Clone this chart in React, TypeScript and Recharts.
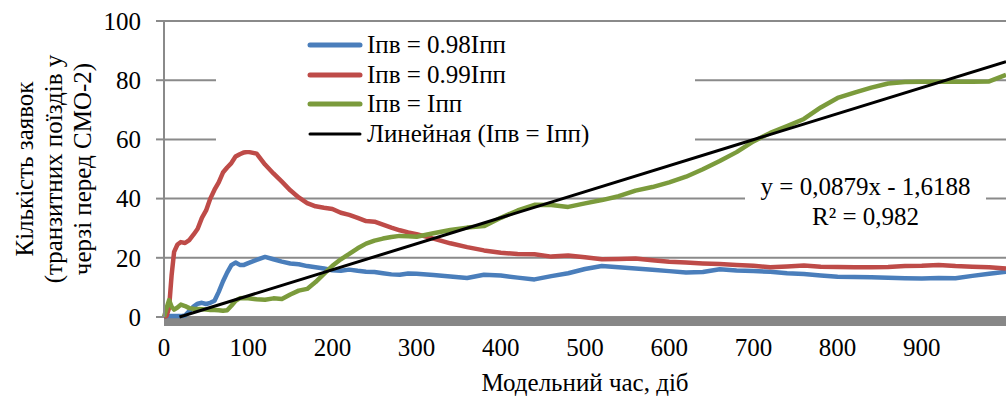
import React from 'react';
import {
  LineChart,
  Line,
  XAxis,
  YAxis,
  CartesianGrid,
  Legend,
  ReferenceLine,
  ReferenceArea,
  Label,
} from 'recharts';

// model time, days
const days = [
  0, 3, 6, 9, 12, 16, 20, 25, 30, 35, 40, 45, 50, 55, 60, 65, 70, 75, 80, 85, 90, 95, 100,
  110, 120, 130, 140, 150, 160, 170, 180, 190, 200, 210, 220, 230, 240, 250, 260, 270, 280, 290,
  300, 320, 340, 360, 380, 400, 420, 440, 460, 480, 500, 520, 540, 560, 580, 600, 620, 640, 660,
  680, 700, 720, 740, 760, 780, 800, 820, 840, 860, 880, 900, 920, 940, 960, 980, 1000,
];

// Iпв = 0.98Iпп
const queue098 = [
  0, 0.3, 0.3, 0.3, 0.3, 0.3, 0.3, 0.5, 2, 3.5, 4.5, 4.8, 4.4, 4.8, 5.5, 8.5, 12, 15, 17.5, 18.4, 17.6, 17.6, 18.2,
  19.3, 20.3, 19.5, 18.7, 18.1, 17.8, 17.2, 16.8, 16.4, 15.8, 15.6, 16.0, 15.6, 15.3, 15.2, 14.8, 14.4, 14.3, 14.7,
  14.6, 14.2, 13.7, 13.2, 14.3, 14.0, 13.3, 12.7, 13.8, 14.8, 16.2, 17.2, 16.8, 16.4, 16.0, 15.5, 15.0, 15.2, 16.1,
  15.7, 15.5, 15.3, 14.8, 14.5, 14.0, 13.6, 13.5, 13.4, 13.3, 13.1, 13.0, 13.2, 13.1, 13.9, 14.6, 15.3,
];

// Iпв = 0.99Iпп
const queue099 = [
  0, 0.3, 3, 14, 22, 24.5, 25.3, 25.0, 26, 27.8, 29.8, 33.5, 36, 40, 43, 45.5, 48.8, 50.5, 52, 54.2, 55, 55.6, 55.8,
  55.2, 51.5, 48.5, 45.7, 42.8, 40.4, 38.5, 37.4, 36.9, 36.5, 35.2, 34.5, 33.5, 32.4, 32.2, 31.2, 30.2, 29.3, 28.6,
  28.0, 26.5, 24.9, 23.6, 22.5, 21.7, 21.3, 21.2, 20.4, 20.8, 20.2, 19.5, 19.6, 19.8, 19.2, 18.7, 18.4, 18.1, 17.9,
  17.6, 17.3, 16.8, 17.1, 17.4, 17.0, 16.9, 16.8, 16.8, 16.9, 17.2, 17.3, 17.6, 17.2, 17.0, 16.8, 16.4,
];

// Iпв = Iпп
const queue100 = [
  0, 3, 5.7, 3.5, 2.5, 3.2, 4.2, 3.7, 3.0, 2.8, 2.7, 2.6, 2.5, 2.4, 2.4, 2.3, 2.1, 2.3, 3.8, 5.5, 6.3, 6.4, 6.3,
  6.0, 5.8, 6.3, 6.1, 7.6, 8.9, 9.5, 11.8, 14.6, 17.3, 19.5, 21.3, 23.2, 24.8, 25.8, 26.5, 27.0, 27.4, 27.3,
  27.1, 28.3, 29.4, 30.2, 30.7, 33.5, 36.0, 37.9, 37.8, 37.2, 38.4, 39.5, 40.8, 42.7, 43.9, 45.5, 47.4, 49.9, 52.7,
  55.7, 59.3, 62.2, 64.5, 66.9, 70.8, 74.0, 75.8, 77.5, 78.9, 79.4, 79.5, 79.5, 79.5, 79.5, 79.6, 81.8,
];

const seriesKeys = ['q098', 'q099', 'q100'];
const seriesNames = ['Iпв = 0.98Iпп', 'Iпв = 0.99Iпп', 'Iпв = Iпп'];
const seriesColors = ['#4a7ebb', '#be4b48', '#7b9b3c'];
const trendName = 'Линейная (Iпв = Iпп)';

// linear trendline of Iпв = Iпп, as printed on the chart
const trendSlope = 0.0879;
const trendIntercept = -1.6188;
const trendLabel = ['y = 0,0879x - 1,6188', 'R² = 0,982'];

const xTicks = [0, 100, 200, 300, 400, 500, 600, 700, 800, 900];
const yTicks = [0, 20, 40, 60, 80, 100];

const xTitle = 'Модельний час, діб';
const yTitle = ['Кількість заявок', '(транзитних поїздів у', 'черзі перед СМО-2)'];

const data = days.map((d, i) => ({
  day: d,
  q098: queue098[i],
  q099: queue099[i],
  q100: queue100[i],
}));

const FONT = 'Liberation Serif, Times New Roman, DejaVu Serif, serif';
const GRID = '#8a8a8a';

const trendStart = -trendIntercept / trendSlope;
const trendEnd = trendSlope * 1000 + trendIntercept;

const YTitle = (props: any) => {
  const vb = props.viewBox;
  const cy = vb.y + vb.height / 2;
  const xs = [33, 62, 91];
  return (
    <g>
      {yTitle.map((t, i) => (
        <text
          key={i}
          x={xs[i]}
          y={cy}
          textAnchor="middle"
          transform={`rotate(-90, ${xs[i]}, ${cy})`}
          style={{ fontSize: 25, fontFamily: FONT }}
          fill="#000"
        >
          {t}
        </text>
      ))}
    </g>
  );
};

const LegendBox = () => {
  const rows = [
    ...seriesNames.map((n, i) => ({ name: n, color: seriesColors[i], width: 5 })),
    { name: trendName, color: '#000', width: 3 },
  ];
  return (
    <div style={{ paddingLeft: 91 }}>
      {rows.map((r) => (
        <div key={r.name} style={{ display: 'flex', alignItems: 'center', height: 29.7 }}>
          <svg width={56} height={10} style={{ marginRight: 4 }}>
            <line x1={3} y1={5} x2={53} y2={5} stroke={r.color} strokeWidth={r.width} strokeLinecap="round" />
          </svg>
          <span style={{ fontSize: 25, fontFamily: FONT, color: '#000', whiteSpace: 'nowrap' }}>{r.name}</span>
        </div>
      ))}
    </div>
  );
};

const tickStyle = { fontSize: 25, fontFamily: FONT, fill: '#000', style: { fontFamily: FONT } };

export default function App() {
  return (
    <div style={{ position: 'absolute', left: 0, top: 0, width: 1006, height: 397, background: '#fff', fontFamily: FONT }}>
      <LineChart width={1006} height={397} data={data} margin={{ top: 21, right: 0, bottom: 0, left: 0 }} style={{ fontFamily: FONT }}>
        <CartesianGrid vertical={false} stroke={GRID} strokeWidth={2} />
        <XAxis
          dataKey="day"
          type="number"
          domain={[0, 1000]}
          ticks={xTicks}
          height={80}
          axisLine={false}
          tickLine={false}
          tickSize={0}
          tickMargin={21}
          tick={tickStyle}
          interval={0}
        >
          <Label value={xTitle} position="insideBottom" offset={6} fontSize={25} fontFamily={FONT} fill="#000" />
        </XAxis>
        <YAxis
          type="number"
          domain={[0, 100]}
          ticks={yTicks}
          width={164}
          axisLine={{ stroke: GRID, strokeWidth: 2 }}
          tickLine={{ stroke: GRID, strokeWidth: 2 }}
          tickSize={8}
          tickMargin={15}
          tick={tickStyle}
          interval={0}
        >
          <Label content={<YTitle />} />
        </YAxis>
        <ReferenceArea x1={0} x2={1000} y1={-3} y2={0} ifOverflow="visible" fill="#878787" fillOpacity={1} stroke="none" />
        {seriesKeys.map((k, i) => (
          <Line
            key={k}
            dataKey={k}
            name={seriesNames[i]}
            type="linear"
            stroke={seriesColors[i]}
            strokeWidth={4.5}
            strokeLinejoin="round"
            dot={false}
            activeDot={false}
            isAnimationActive={false}
          />
        ))}
        <ReferenceLine
          segment={[
            { x: trendStart, y: 0 },
            { x: 1000, y: trendEnd },
          ]}
          stroke="#000"
          strokeWidth={3}
        />
        <Legend
          layout="vertical"
          align="center"
          verticalAlign="middle"
          content={<LegendBox />}
          wrapperStyle={{ left: 216, top: 30, width: 479, height: 120, background: '#fff' }}
        />
      </LineChart>
      <div
        style={{
          position: 'absolute',
          left: 745,
          top: 172,
          width: 241,
          height: 60,
          background: '#fff',
          fontFamily: FONT,
          fontSize: 25,
          lineHeight: '30px',
          textAlign: 'center',
          color: '#000',
        }}
      >
        {trendLabel.map((t) => (
          <div key={t}>{t}</div>
        ))}
      </div>
    </div>
  );
}
